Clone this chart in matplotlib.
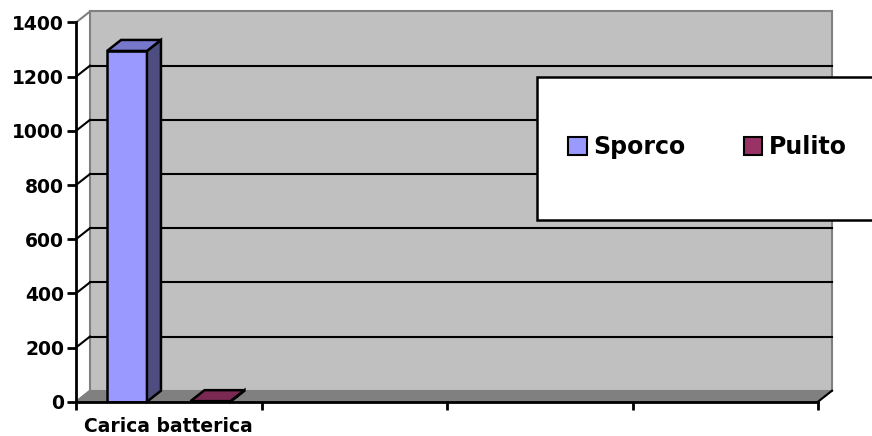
import matplotlib.pyplot as plt
from matplotlib.patches import Polygon, Rectangle, Patch

categories = ["Carica batterica", "", "", ""]
series_names = ["Sporco", "Pulito"]
sporco = [1295]
pulito = [2]
y_ticks = [0, 200, 400, 600, 800, 1000, 1200, 1400]

front_colors = ["#9999FF", "#993366"]
top_colors = ["#7777CC", "#7A2952"]
side_colors = ["#4D4D80", "#4D1A33"]

plt.rcParams['font.family'] = ['DejaVu Sans']
plt.rcParams['font.weight'] = 'bold'

fig = plt.figure(figsize=(8.72, 4.36), dpi=100)
ax = fig.add_axes([76 / 872, 1 - 401.7 / 436, 742 / 872, 379.2 / 436])
ax.set_xlim(0, len(categories))
ax.set_ylim(0, 1400)
ax.set_facecolor("none")

# depth of the fake 3d box, pixels converted to data units
ddx = 14 * len(categories) / 742
ddy = 11 * 1400 / 379.2
n = len(categories)
top = y_ticks[-1]

# back wall + floor
ax.add_patch(Polygon([(ddx, ddy), (n + ddx, ddy), (n + ddx, top + ddy), (ddx, top + ddy)],
                     closed=True, facecolor="#C0C0C0", edgecolor="#808080", lw=1.5,
                     clip_on=False, zorder=1))
ax.add_patch(Polygon([(0, 0), (n, 0), (n + ddx, ddy), (ddx, ddy)], closed=True,
                     facecolor="#808080", edgecolor="#808080", lw=1, clip_on=False, zorder=1.5))
ax.plot([n, n + ddx], [0, ddy], color="black", lw=1.5, clip_on=False, zorder=2)
ax.plot([0, ddx], [0, ddy], color="#808080", lw=1.5, clip_on=False, zorder=2)
ax.plot([0, ddx], [top, top + ddy], color="#808080", lw=1.5, clip_on=False, zorder=2)

# gridlines on the back wall and left wall
for v in y_ticks[1:-1]:
    ax.plot([ddx, n + ddx], [v + ddy, v + ddy], color="black", lw=1.5, zorder=2, clip_on=False)
    ax.plot([0, ddx], [v, v + ddy], color="black", lw=1.5, zorder=2, clip_on=False)

# bars
width = 0.215
offsets = [-0.225, 0.225]
for i, vals in enumerate([sporco, pulito]):
    for j, v in enumerate(vals):
        x0 = j + 0.5 + offsets[i] - width / 2
        x1 = x0 + width
        ax.bar(x0, v, width=width, align="edge", color=front_colors[i],
               edgecolor="black", lw=1.8, zorder=3)
        ax.add_patch(Polygon([(x1, 0), (x1 + ddx, ddy), (x1 + ddx, v + ddy), (x1, v)],
                             closed=True, facecolor=side_colors[i], edgecolor="black",
                             lw=1.8, zorder=3, clip_on=False))
        ax.add_patch(Polygon([(x0, v), (x1, v), (x1 + ddx, v + ddy), (x0 + ddx, v + ddy)],
                             closed=True, facecolor=top_colors[i], edgecolor="black",
                             lw=1.8, zorder=3.5, clip_on=False))

# axes
for s in ["top", "right"]:
    ax.spines[s].set_visible(False)
for s in ["left", "bottom"]:
    ax.spines[s].set_linewidth(2)
    ax.spines[s].set_zorder(4)
ax.set_yticks(y_ticks)
ax.set_yticklabels([str(t) for t in y_ticks], fontsize=13.5, fontweight="bold")
ax.tick_params(axis="y", direction="out", length=6.5, width=2, pad=2)
ax.set_xticks(range(n + 1))
ax.set_xticklabels([])
ax.tick_params(axis="x", which="major", direction="out", length=6, width=2)
ax.set_xticks([j + 0.5 for j in range(n)], minor=True)
ax.set_xticklabels(categories, minor=True, fontsize=13.5, fontweight="bold")
ax.tick_params(axis="x", which="minor", length=0, pad=11)

# legend box
fig.patches.append(Rectangle((537 / 872, 1 - 220 / 436), 0.5, 143 / 436,
                             transform=fig.transFigure, facecolor="white",
                             edgecolor="black", lw=1.8, zorder=5))
handles = [Patch(facecolor=front_colors[i], edgecolor="black", lw=1.5) for i in range(2)]
leg = fig.legend(handles, series_names, loc="center left", bbox_to_anchor=(568 / 872, 1 - 147 / 436),
                 ncol=2, frameon=False, borderpad=0, borderaxespad=0,
                 handlelength=0.8, handleheight=0.8, handletextpad=0.25, columnspacing=2.48,
                 prop={"size": 17, "weight": "bold"})
leg.set_zorder(6)

fig.savefig("out.png", dpi=100)
